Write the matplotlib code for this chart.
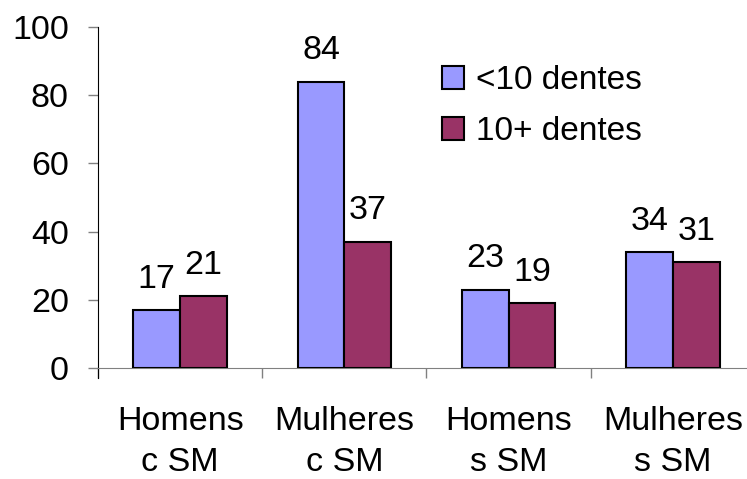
import numpy as np
import matplotlib.pyplot as plt
from matplotlib.patches import Patch

plt.rcParams['font.family'] = ['Liberation Sans', 'DejaVu Sans']

categories = ['Homens\nc SM', 'Mulheres\nc SM', 'Homens\ns SM', 'Mulheres\ns SM']
series_names = ['<10 dentes', '10+ dentes']
menos10 = [17, 84, 23, 34]
mais10 = [21, 37, 19, 31]
colors = ['#9999FF', '#993366']

fig = plt.figure(figsize=(7.47, 4.79), dpi=100)
ax = fig.add_axes([98 / 747, 111 / 479, 657 / 747, 341 / 479])

x = np.arange(len(categories))
w = 0.285
for vals, off, col in [(menos10, -w / 2, colors[0]), (mais10, w / 2, colors[1])]:
    bars = ax.bar(x + off, vals, w, color=col, edgecolor='black', linewidth=1.5, zorder=3)
    for b, v in zip(bars, vals):
        ax.text(b.get_x() + b.get_width() / 2, v + 4.5, str(v), ha='center', va='bottom',
                fontsize=24.5)

ax.set_xlim(-0.5, len(categories) - 0.5)
ax.set_ylim(0, 100)
ax.set_yticks(range(0, 101, 20))
ax.tick_params(axis='y', labelsize=24.5, length=7, width=1, colors='#808080', labelcolor='black', pad=14)
ax.set_xticks(np.arange(len(categories) + 1) - 0.5, minor=True)
ax.set_xticks(x)
ax.set_xticklabels(categories, fontsize=24.5, linespacing=1.42)
ax.tick_params(axis='x', which='major', length=0, pad=27)
ax.tick_params(axis='x', which='minor', length=7, width=1, colors='#808080')

for s in ['top', 'right']:
    ax.spines[s].set_visible(False)
ax.spines['left'].set_color('black')
ax.spines['bottom'].set_color('#808080')
ax.spines['left'].set_bounds(-3, 100)
ax.spines['left'].set_clip_on(False)

handles = [Patch(facecolor=c, edgecolor='black', linewidth=1.5) for c in colors]
ax.legend(handles, series_names, loc='upper left', bbox_to_anchor=(0.524, 0.888),
          frameon=False, fontsize=24, handlelength=0.65, handleheight=0.65,
          handletextpad=0.36, labelspacing=0.6, borderpad=0, borderaxespad=0)

fig.savefig('out.png', dpi=100)
